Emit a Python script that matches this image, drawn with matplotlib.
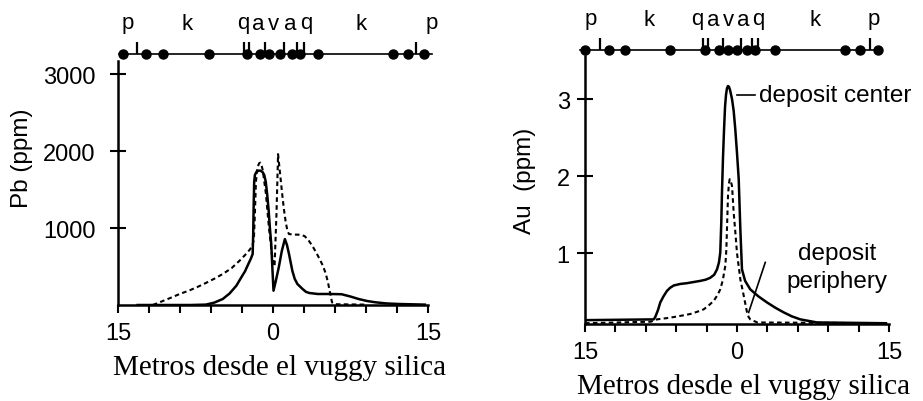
import matplotlib
matplotlib.use('Agg')
import matplotlib.pyplot as plt

plt.rcParams['font.family'] = ['Liberation Sans', 'DejaVu Sans']

W, H = 923, 402

# ---------------- data ----------------
# Pb (ppm) vs metres from vuggy silica
pb_solid_x = [-13.1, -8.0, -6.5, -5.7, -4.86, -4.2, -3.55, -3.05, -2.7, -2.39, -2.15, -1.97,
              -1.92, -1.87, -1.82, -1.75, -1.6, -1.4, -1.2, -1.0, -0.85, -0.7, -0.55,
              -0.42, -0.3, -0.17, -0.05, 0.05, 0.3, 0.56, 0.85, 1.15, 1.35, 1.55, 1.87,
              2.1, 2.36, 2.86, 3.2, 3.52, 4.33, 5.5, 6.63, 7.5, 8.28, 9.1, 9.92, 11.0,
              12.2, 14.7]
pb_solid_y = [0, 0, 5, 30, 78, 150, 250, 363, 440, 532, 600, 662,
              900, 1300, 1600, 1690, 1730, 1745, 1745, 1725, 1690, 1600, 1420,
              1225, 1000, 792, 450, 186, 330, 490, 700, 857, 780, 662, 445,
              340, 273, 208, 170, 156, 143, 143, 140, 110, 78, 52, 35, 20,
              13, 5]
pb_dash_x = [-11.63, -10.7, -9.78, -9.0, -8.15, -7.3, -6.5, -5.7, -4.86, -4.0, -3.2, -2.7,
             -2.24, -2.0, -1.85, -1.75, -1.65, -1.52, -1.35, -1.23, -1.1, -0.99, -0.69,
             -0.39, -0.1, 0.15, 0.34, 0.49, 0.69, 0.89, 1.05, 1.21, 1.4, 1.55, 1.97,
             2.69, 3.05, 3.35, 3.8, 4.17, 4.5, 4.83, 5.1, 5.32, 5.55, 5.71, 6.0, 9.0]
pb_dash_y = [0, 50, 100, 145, 186, 235, 286, 340, 403, 480, 580, 650,
             720, 770, 850, 1200, 1600, 1780, 1840, 1850, 1810, 1750, 1450,
             1000, 650, 500, 1200, 1960, 1700, 1440, 1250, 1095, 960, 922, 915,
             913, 895, 857, 770, 684, 600, 510, 410, 294, 140, 35, 10, 5]

# Au (ppm) vs metres from vuggy silica
au_center_x = [-15, -8.22, -8.07, -7.8, -7.57, -7.25, -6.91, -6.6, -6.25, -5.6, -4.94,
               -3.62, -3.1, -2.64, -2.25, -1.97, -1.78, -1.65, -1.55, -1.48, -1.38,
               -1.28, -1.18, -1.09, -0.99, -0.89, -0.79, -0.69, -0.49, -0.33, -0.17,
               0.0, 0.17, 0.33, 0.49, 0.8, 1.31, 2.1, 2.96, 3.8, 4.62, 5.4, 6.25,
               7.9, 14.7]
au_center_y = [0.13, 0.14, 0.17, 0.26, 0.36, 0.44, 0.51, 0.55, 0.58, 0.6, 0.61,
               0.64, 0.655, 0.68, 0.72, 0.79, 0.88, 1.01, 1.4, 1.8, 2.25,
               2.6, 2.9, 3.05, 3.14, 3.17, 3.16, 3.12, 3.0, 2.85, 2.61,
               2.3, 1.96, 1.31, 0.79, 0.64, 0.53, 0.44, 0.36, 0.29, 0.23, 0.18, 0.14,
               0.1, 0.09]
au_periph_x = [-15, -8.5, -7.9, -7.0, -6.25, -5.4, -4.6, -3.9, -3.29, -2.8, -2.3,
               -1.95, -1.65, -1.4, -1.15, -1.05, -0.99, -0.89, -0.8, -0.72, -0.6,
               -0.49, -0.33, -0.15, 0.0, 0.33, 0.66, 0.99, 1.15, 1.31, 2.0, 14.7]
au_periph_y = [0.09, 0.11, 0.14, 0.155, 0.17, 0.19, 0.21, 0.24, 0.27, 0.32, 0.38,
               0.45, 0.53, 0.65, 0.84, 1.05, 1.31, 1.74, 1.9, 1.96, 1.93,
               1.87, 1.53, 1.25, 1.0, 0.66, 0.45, 0.23, 0.17, 0.14, 0.1, 0.09]

# top strip: alteration zones and sample points
zone_labels = ['p', 'k', 'q', 'a', 'v', 'a', 'q', 'k', 'p']
pb_zone_x = [-14.09, -8.28, -2.89, -1.41, 0.0, 1.7, 3.18, 8.57, 15.37]
pb_samples = [-14.55, -12.25, -10.61, -6.18, -2.56, -1.25, -0.42, 0.72, 1.87, 2.66,
              4.4, 11.66, 13.03, 14.58]
pb_bounds = [-13.13, -2.83, -2.3, -0.82, 1.11, 2.36, 2.96, 13.86]
pb_strip_span = [-14.88, 15.34]

au_zone_x = [-14.48, -8.72, -3.95, -2.3, -0.82, 0.66, 2.14, 7.73, 13.49]
au_samples = [-14.98, -12.67, -11.03, -6.58, -3.13, -1.81, -0.92, 0.0, 0.99, 1.78,
              3.78, 10.69, 12.17, 13.89]
au_bounds = [-13.49, -3.36, -2.86, -1.38, 0.39, 1.48, 2.04, 13.16]
au_strip_span = [-15.47, 14.31]

x_ticks = list(range(-15, 16, 3))
x_ticklabels = ['15' if t in (-15, 15) else ('0' if t == 0 else '') for t in x_ticks]
pb_yticks = [1000, 2000, 3000]
au_yticks = [1, 2, 3]

xlabel = 'Metros desde el vuggy silica'

# ---------------- figure ----------------
fig = plt.figure(figsize=(W / 100, H / 100), dpi=100)


def fbox(l, t, r, b):
    return [l / W, 1 - b / H, (r - l) / W, (b - t) / H]


def style_axes(ax, ypad):
    for s in ('top', 'right'):
        ax.spines[s].set_visible(False)
    for s in ('left', 'bottom'):
        ax.spines[s].set_linewidth(1.8)
    ax.set_xlim(-15, 15)
    ax.set_xticks(x_ticks)
    ax.set_xticklabels(x_ticklabels)
    ax.tick_params(axis='x', direction='out', length=6, width=1.5, pad=6, labelsize=17)
    ax.tick_params(axis='y', direction='inout', length=12, width=1.5, pad=ypad, labelsize=17)


def strip(ax, span, bounds, samples, zx):
    ax.set_xlim(-15, 15)
    ax.set_ylim(0, 1)
    ax.axis('off')
    ax.plot(span, [0.1, 0.1], color='black', lw=1.2, clip_on=False)
    ax.vlines(bounds, 0.1, 0.35, color='black', lw=1.6, clip_on=False)
    ax.plot(samples, [0.1] * len(samples), 'o', color='black', ms=6.5, clip_on=False)
    for lab, x in zip(zone_labels, zx):
        ax.text(x, 0.72, lab, ha='center', va='center', fontsize=16, clip_on=False)


# ----- left: Pb -----
ax1 = fig.add_axes(fbox(118, 62, 428, 306))
style_axes(ax1, 10)
ax1.set_ylim(0, 3170)
ax1.set_yticks(pb_yticks)
ax1.plot(pb_solid_x, pb_solid_y, color='black', lw=1.8, solid_joinstyle='round')
ax1.plot(pb_dash_x, pb_dash_y, color='black', lw=1.5, linestyle=(0, (2.2, 1.6)))
s1 = fig.add_axes(fbox(118, 10, 428, 60))
strip(s1, pb_strip_span, pb_bounds, pb_samples, pb_zone_x)
fig.text(22 / W, 1 - 158 / H, 'Pb (ppm)', rotation=90, ha='center', va='center', fontsize=17.5)
fig.text(280 / W, 1 - 368 / H, xlabel, ha='center', va='center', fontsize=21,
         family=['Liberation Serif', 'DejaVu Serif'])

# ----- right: Au -----
ax2 = fig.add_axes(fbox(585, 57, 889, 325))
style_axes(ax2, 5)
ax2.set_ylim(0.08, 3.56)
ax2.set_yticks(au_yticks)
ax2.plot(au_center_x, au_center_y, color='black', lw=1.8, solid_joinstyle='round')
ax2.plot(au_periph_x, au_periph_y, color='black', lw=1.5, linestyle=(0, (2.2, 1.6)))
s2 = fig.add_axes(fbox(585, 6, 889, 56))
strip(s2, au_strip_span, au_bounds, au_samples, au_zone_x)

ax2.plot([0.0, 1.78], [3.06, 3.06], color='black', lw=1.2)
ax2.text(2.17, 3.06, 'deposit center', ha='left', va='center', fontsize=17.5)
ax2.text(9.9, 0.82, 'deposit\nperiphery', ha='center', va='center', fontsize=17.5,
         linespacing=1.3)
ax2.plot([2.79, 1.15], [0.88, 0.23], color='black', lw=1.2)

fig.text(525 / W, 1 - 181 / H, 'Au  (ppm)', rotation=90, ha='center', va='center', fontsize=17.5)
fig.text(744 / W, 1 - 387 / H, xlabel, ha='center', va='center', fontsize=21,
         family=['Liberation Serif', 'DejaVu Serif'])

fig.savefig('out.png', dpi=100)
